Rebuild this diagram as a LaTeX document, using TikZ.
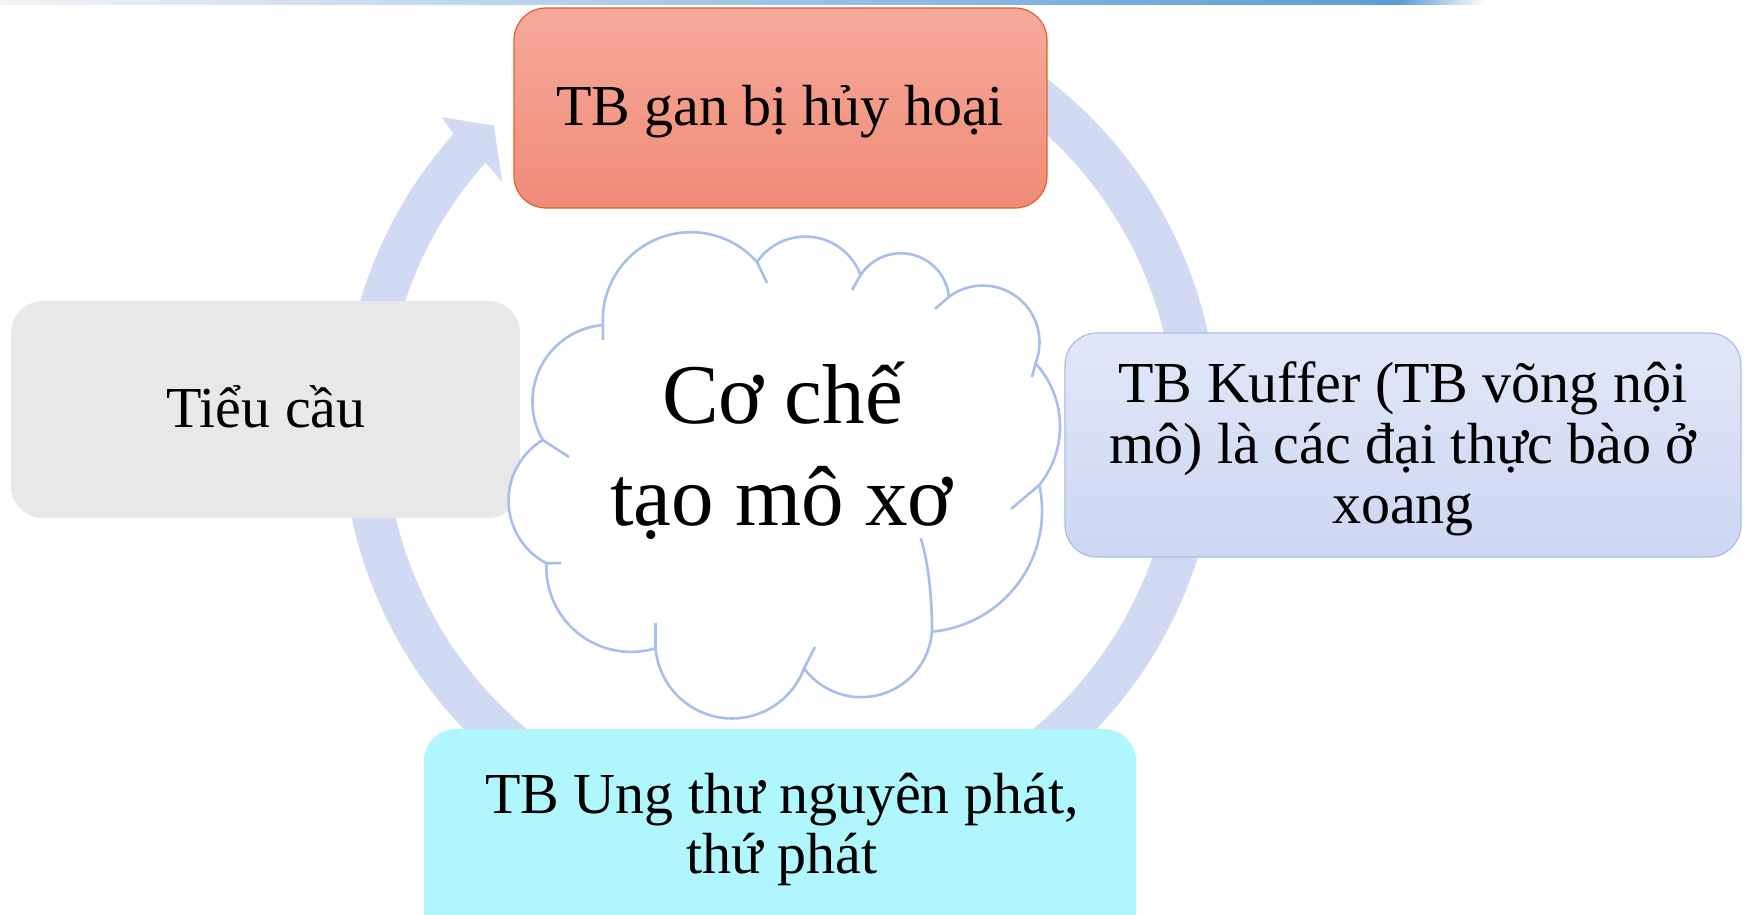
\documentclass[tikz,border=0pt]{standalone}
\usepackage{fontspec}
\setmainfont{Liberation Serif}
\definecolor{ringc}{HTML}{D0DAF2}
\definecolor{topA}{HTML}{F7AA9C}
\definecolor{topB}{HTML}{EF8A76}
\definecolor{topE}{HTML}{E0622C}
\definecolor{leftF}{HTML}{E8E8E8}
\definecolor{rightA}{HTML}{E1E7F8}
\definecolor{rightB}{HTML}{CCD7F2}
\definecolor{rightE}{HTML}{A9BDEA}
\definecolor{botF}{HTML}{B0F7FD}
\definecolor{cloudE}{HTML}{A8BEEE}
\definecolor{stripL}{HTML}{F2F4F7}
\definecolor{stripR}{HTML}{5B9BD5}
\tikzset{
  boxst/.style={rectangle, rounded corners=16pt, inner sep=0pt, outer sep=0pt},
  txt/.style={anchor=base, inner sep=0pt, font=\fontsize{29}{30}\selectfont},
  bigtxt/.style={anchor=base, inner sep=0pt, font=\fontsize{42.5}{51}\selectfont},
  cloudst/.style={draw=cloudE, line width=1.3pt},
}
% circle through three points A, M, B (pixel units); arc goes from A to B clockwise on screen
\newcommand\cldlobe[6]{%
  \pgfmathsetmacro\cldBx{(#3-#1)/100}%
  \pgfmathsetmacro\cldBy{(#4-#2)/100}%
  \pgfmathsetmacro\cldCx{(#5-#1)/100}%
  \pgfmathsetmacro\cldCy{(#6-#2)/100}%
  \pgfmathsetmacro\cldD{2*(\cldBx*\cldCy-\cldBy*\cldCx)}%
  \pgfmathsetmacro\cldBB{\cldBx*\cldBx+\cldBy*\cldBy}%
  \pgfmathsetmacro\cldCC{\cldCx*\cldCx+\cldCy*\cldCy}%
  \pgfmathsetmacro\cldUx{(\cldCy*\cldBB-\cldBy*\cldCC)/\cldD}%
  \pgfmathsetmacro\cldUy{(\cldBx*\cldCC-\cldCx*\cldBB)/\cldD}%
  \pgfmathsetmacro\cldR{100*sqrt(\cldUx*\cldUx+\cldUy*\cldUy)}%
  \pgfmathsetmacro\cldSA{atan2(-\cldUy,-\cldUx)}%
  \pgfmathsetmacro\cldEA{atan2(\cldCy-\cldUy,\cldCx-\cldUx)}%
  \pgfmathsetmacro\cldSE{\cldSA+mod(\cldEA-\cldSA+720,360)}%
  \xdef\lobeS{\cldSA}\xdef\lobeE{\cldSE}\xdef\lobeR{\cldR}%
}
\tikzset{lobearc/.style={start angle=\lobeS, end angle=\lobeE, radius=\lobeR}}
\begin{document}
\begin{tikzpicture}[x=0.5pt, y=-0.5pt]
\clip (0,0) rectangle (1747,915);
\fill[white] (0,0) rectangle (1747,915);
% top strip
\shade[left color=stripL, right color=stripR] (0,0) rectangle (1400,5);
\shade[left color=stripR, right color=white] (1400,0) rectangle (1485,5);
% ring arrow
\coordinate (ringC) at (780,426);
\fill[ringc] (929.8,14.4) arc[start angle=-70, end angle=221.8, radius=438]
  -- (441.8,117.2) -- (493.8,125.5) -- (502.1,181.7) -- (485.5,162.7)
  arc[start angle=221.8, end angle=-70, radius=395] -- cycle;
% boxes
\node[boxst, minimum width=266.5pt, minimum height=100pt, top color=topA, bottom color=topB, draw=topE, line width=0.6pt] (hepato) at (780.5,108) {};
\node[boxst, minimum width=338pt, minimum height=112pt, top color=rightA, bottom color=rightB, draw=rightE, line width=0.6pt] (kupffer) at (1403,445) {};
\node[boxst, minimum width=254.5pt, minimum height=108.5pt, fill=leftF] (platelet) at (265.5,409.5) {};
\node[boxst, minimum width=356pt, minimum height=110.5pt, fill=botF] (cancer) at (780,839.5) {};
% cloud
\filldraw[cloudst, fill=white] (542.7,440)
  \pgfextra{\cldlobe{542.7}{440}{542.7}{363.3}{602.9}{325}} arc[lobearc]
  \pgfextra{\cldlobe{602.9}{325}{700.7}{232.7}{757}{262}} arc[lobearc]
  \pgfextra{\cldlobe{757}{262}{809.8}{236.7}{860.6}{275}} arc[lobearc]
  \pgfextra{\cldlobe{860.6}{275}{903.8}{253.3}{949}{296.7}} arc[lobearc]
  \pgfextra{\cldlobe{949}{296.7}{1016.7}{296.7}{1035.5}{363.3}} arc[lobearc]
  \pgfextra{\cldlobe{1035.5}{363.3}{1060}{423.3}{1039.3}{485}} arc[lobearc]
  \pgfextra{\cldlobe{1039.3}{485}{1031.8}{560}{932}{631.7}} arc[lobearc]
  \pgfextra{\cldlobe{932}{631.7}{853}{696.7}{804.1}{668.3}} arc[lobearc]
  \pgfextra{\cldlobe{804.1}{668.3}{727}{718.3}{655.5}{648.3}} arc[lobearc]
  \pgfextra{\cldlobe{655.5}{648.3}{587.8}{640}{546.4}{563.3}} arc[lobearc]
  \pgfextra{\cldlobe{546.4}{563.3}{508.8}{506.7}{542.7}{440}} arc[lobearc]
  -- cycle;
\draw[cloudst] (602.9,325) -- (603,340);
\draw[cloudst] (757,262) -- (767,283);
\draw[cloudst] (860.6,275) -- (852,290);
\draw[cloudst] (949,296.7) -- (935,309);
\draw[cloudst] (1035.5,363.3) -- (1032,377);
\draw[cloudst] (542.7,440) -- (569,457);
\draw[cloudst] (546.4,563.3) -- (561,563);
\draw[cloudst] (655.5,648.3) -- (655.5,623);
\draw[cloudst] (804.1,668.3) -- (815,647);
\draw[cloudst] (932,631.7) .. controls (932,600) and (929,565) .. (920.8,538.3);
\draw[cloudst] (1039.3,485) -- (1011,509);
% texts
\node[txt] (hepatoT) at (780,126) {TB gan bị hủy hoại};
\node[txt] (plateletT) at (266,427) {Tiểu cầu};
\node[txt] (kupfferT1) at (1403,402) {TB Kuffer (TB võng nội};
\node[txt] (kupfferT2) at (1403,463) {mô) là các đại thực bào ở};
\node[txt] (kupfferT3) at (1403,523) {xoang};
\node[txt] (cancerT1) at (782,813) {TB Ung thư nguyên phát,};
\node[txt] (cancerT2) at (782,873) {thứ phát};
\node[bigtxt] (cloudT1) at (782.5,423) {Cơ chế};
\node[bigtxt] (cloudT2) at (781.5,525) {tạo mô xơ};
\end{tikzpicture}
\end{document}
